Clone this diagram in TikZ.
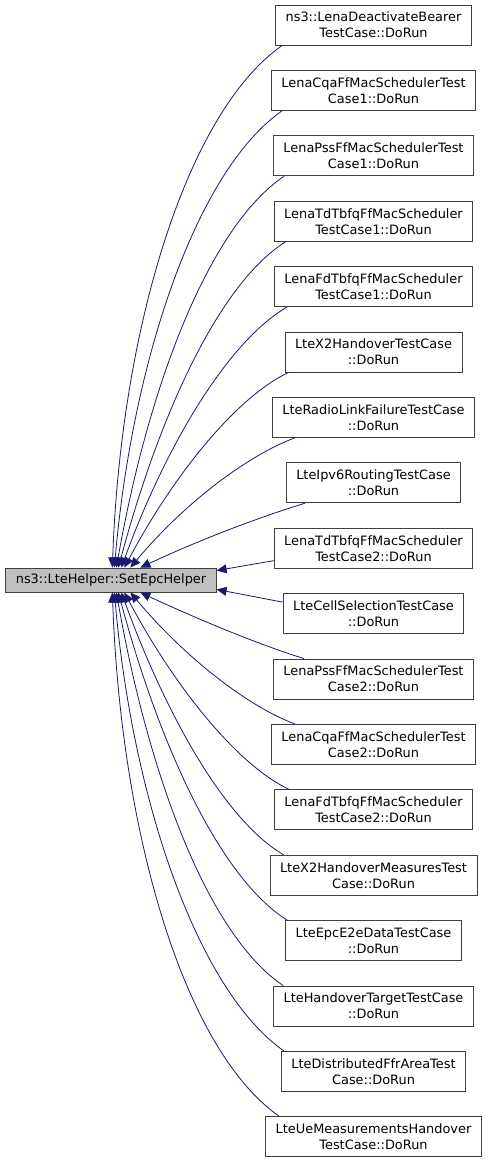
\documentclass[tikz,border=0pt]{standalone}
\usepackage{fontspec}
\setmainfont{DejaVu Sans}
\usetikzlibrary{arrows.meta,positioning}
\definecolor{edgeblue}{RGB}{25,25,112}
\definecolor{nodegray}{RGB}{191,191,191}

\begin{document}
\begin{tikzpicture}[
    node distance=24.5pt,
    box/.style={draw=black!75, line width=0.9pt, align=center, minimum height=40pt, inner xsep=10pt, inner ysep=2pt, font=\fontsize{12.9}{16}\selectfont},
    link/.style={edgeblue, line width=0.8pt, -{Triangle[length=10pt,width=9pt]}, out looseness=0.55, in looseness=1.1}
]
\useasboundingbox (0pt,0pt) rectangle (488pt,-1161pt);
\node[box, fill=nodegray, minimum height=24pt] (epc) at (111pt,-580pt) {ns3::LteHelper::SetEpcHelper};
% callers, top to bottom
\node[box] (deact) at (373.5pt,-25pt) {ns3::LenaDeactivateBearer\\TestCase::DoRun};
\node[box, below=of deact] (cqa1) {LenaCqaFfMacSchedulerTest\\Case1::DoRun};
\node[box, below=of cqa1] (pss1) {LenaPssFfMacSchedulerTest\\Case1::DoRun};
\node[box, below=of pss1] (tdtb1) {LenaTdTbfqFfMacScheduler\\TestCase1::DoRun};
\node[box, below=of tdtb1] (fdtb1) {LenaFdTbfqFfMacScheduler\\TestCase1::DoRun};
\node[box, below=of fdtb1] (x2ho) {LteX2HandoverTestCase\\::DoRun};
\node[box, below=of x2ho] (rlf) {LteRadioLinkFailureTestCase\\::DoRun};
\node[box, below=of rlf] (ipv6) {LteIpv6RoutingTestCase\\::DoRun};
\node[box, below=of ipv6] (tdtb2) {LenaTdTbfqFfMacScheduler\\TestCase2::DoRun};
\node[box, below=of tdtb2] (cellsel) {LteCellSelectionTestCase\\::DoRun};
\node[box, below=of cellsel] (pss2) {LenaPssFfMacSchedulerTest\\Case2::DoRun};
\node[box, below=of pss2] (cqa2) {LenaCqaFfMacSchedulerTest\\Case2::DoRun};
\node[box, below=of cqa2] (fdtb2) {LenaFdTbfqFfMacScheduler\\TestCase2::DoRun};
\node[box, below=of fdtb2] (x2meas) {LteX2HandoverMeasuresTest\\Case::DoRun};
\node[box, below=of x2meas] (e2e) {LteEpcE2eDataTestCase\\::DoRun};
\node[box, below=of e2e] (hotarget) {LteHandoverTargetTestCase\\::DoRun};
\node[box, below=of hotarget] (ffrarea) {LteDistributedFfrAreaTest\\Case::DoRun};
\node[box, below=of ffrarea] (uemeas) {LteUeMeasurementsHandover\\TestCase::DoRun};
% edges into SetEpcHelper
\draw[link] ([xshift=7pt]deact.south west) to[out=215, in=88] ([xshift=107pt]epc.north west);
\draw[link] ([xshift=11pt]cqa1.south west) to[out=215, in=85] ([xshift=109pt]epc.north west);
\draw[link] ([xshift=11pt]pss1.south west) to[out=214, in=80] ([xshift=111pt]epc.north west);
\draw[link] ([xshift=12pt]tdtb1.south west) to[out=212, in=75] ([xshift=113pt]epc.north west);
\draw[link] ([xshift=13pt]fdtb1.south west) to[out=210, in=70] ([xshift=116pt]epc.north west);
\draw[link] ([xshift=4pt]x2ho.south west) to[out=205, in=62] ([xshift=119pt]epc.north west);
\draw[link] ([xshift=23pt]rlf.south west) to[out=200, in=50] ([xshift=125pt]epc.north west);
\draw[link] ([xshift=19pt]ipv6.south west) to[out=197, in=25] ([xshift=135pt]epc.north west);
\draw[link] ([yshift=8pt]tdtb2.south west) -- ([yshift=-3pt]epc.north east);
\draw[link] ([yshift=-9pt]cellsel.north west) -- ([yshift=3pt]epc.south east);
\draw[link] ([xshift=31pt]pss2.north west) to[out=163, in=-25] ([xshift=135pt]epc.south west);
\draw[link] ([xshift=24pt]cqa2.north west) to[out=160, in=-50] ([xshift=125pt]epc.south west);
\draw[link] ([xshift=15pt]fdtb2.north west) to[out=155, in=-62] ([xshift=119pt]epc.south west);
\draw[link] ([xshift=14pt]x2meas.north west) to[out=150, in=-70] ([xshift=116pt]epc.south west);
\draw[link] ([xshift=2pt]e2e.north west) to[out=148, in=-75] ([xshift=113pt]epc.south west);
\draw[link] ([xshift=10pt]hotarget.north west) to[out=146, in=-80] ([xshift=111pt]epc.south west);
\draw[link] ([xshift=3pt]ffrarea.north west) to[out=145, in=-85] ([xshift=109pt]epc.south west);
\draw[link] ([xshift=14pt]uemeas.north west) to[out=145, in=-88] ([xshift=107pt]epc.south west);
\end{tikzpicture}
\end{document}
